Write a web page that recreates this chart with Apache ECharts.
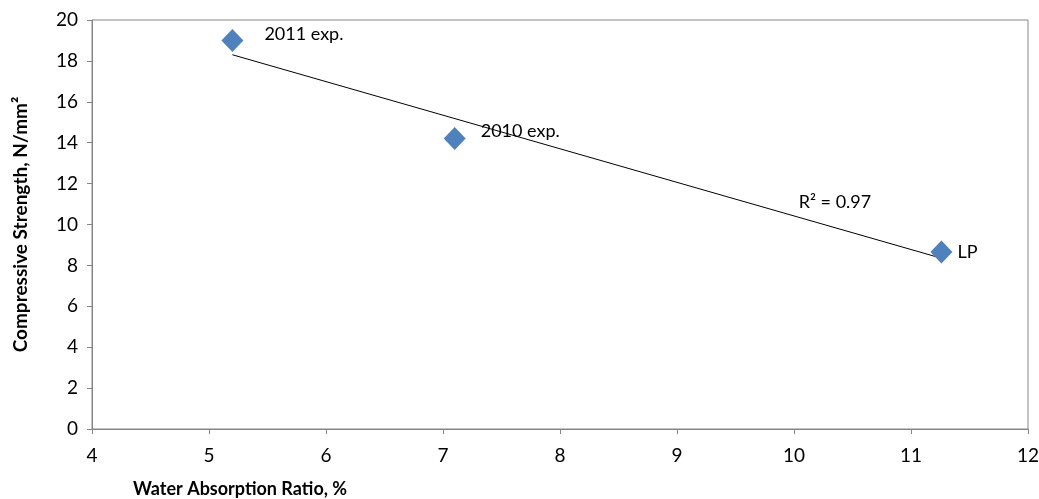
<!DOCTYPE html>
<html>
<head>
<meta charset="utf-8">
<script src="https://cdn.jsdelivr.net/npm/echarts@6/dist/echarts.min.js"></script>
<style>
html, body { margin: 0; padding: 0; background: #fff; }
#chart { width: 1039px; height: 499px; }
</style>
</head>
<body>
<div id="chart"></div>
<script>
// 数据：吸水率 vs 抗压强度
const names = ['2011 exp.', '2010 exp.', 'LP'];
const waterAbsorption = [5.2, 7.1, 11.26];
const strength = [19.0, 14.2, 8.65];
// 趋势线两端
const trendX = [5.2, 11.26];
const trendY = [18.3, 8.35];
const r2Text = 'R² = 0.97';

const points = names.map((n, i) => ({ name: n, value: [waterAbsorption[i], strength[i]] }));
const labelOffsets = [[16, -6], [10, -7], [0, 0]];
points.forEach((p, i) => {
	p.label = { offset: labelOffsets[i] };
});

const font = 'Lato, "Open Sans", sans-serif';

const option = {
	animation: false,
	backgroundColor: '#fff',
	textStyle: { fontFamily: font },
	grid: {
		left: 92, right: 11, top: 20, bottom: 70,
		outerBoundsMode: 'none', containLabel: false,
		show: true, borderColor: '#868686', borderWidth: 1
	},
	title: {
		text: 'Water Absorption Ratio, %',
		left: 128, top: 475,
		textStyle: { fontFamily: font, fontSize: 18, fontWeight: 'bold', color: '#000' }
	},
	xAxis: {
		type: 'value', min: 4, max: 12, interval: 1,
		splitLine: { show: false },
		axisLine: { lineStyle: { color: '#868686' } },
		axisTick: { show: true, length: 5, lineStyle: { color: '#868686' } },
		axisLabel: { color: '#000', fontSize: 19, margin: 17, fontFamily: font }
	},
	yAxis: {
		type: 'value', min: 0, max: 20, interval: 2,
		name: 'Compressive Strength, N/mm²',
		nameLocation: 'middle', nameGap: 62,
		nameTextStyle: { fontFamily: font, fontSize: 19, fontWeight: 'bold', color: '#000' },
		splitLine: { show: false },
		axisLine: { show: true, lineStyle: { color: '#868686' } },
		axisTick: { show: true, length: 5, lineStyle: { color: '#868686' } },
		axisLabel: { color: '#000', fontSize: 19, margin: 14, fontFamily: font }
	},
	series: [
		{
			type: 'line',
			data: [[trendX[0], trendY[0]], [trendX[1], trendY[1]]],
			symbol: 'none',
			lineStyle: { color: '#000', width: 1 },
			z: 1,
			markPoint: {
				symbol: 'rect', symbolSize: 0,
				data: [{ coord: [10.35, 11.1], value: r2Text }],
				label: { show: true, formatter: r2Text, color: '#000', fontSize: 18, fontFamily: font }
			}
		},
		{
			type: 'scatter',
			data: points,
			symbol: 'diamond',
			symbolSize: [22, 23],
			itemStyle: { color: '#4F81BD', opacity: 1 },
			z: 2,
			label: {
				show: true, position: 'right', color: '#000', fontSize: 18, fontFamily: font,
				formatter: p => p.name
			}
		}
	]
};

let myChart = echarts.init(document.getElementById('chart'));
myChart.setOption(option);
</script>
</body>
</html>
